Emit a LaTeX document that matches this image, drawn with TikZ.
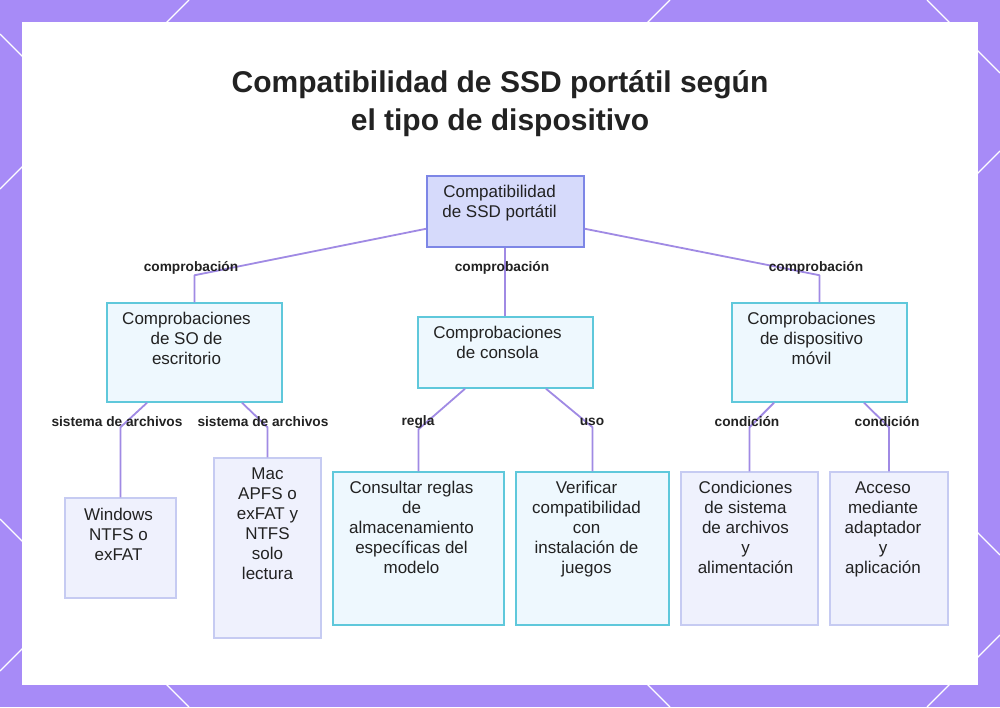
\documentclass[tikz,border=0pt]{standalone}
\usepackage{fontspec}
\setmainfont{Liberation Sans}
\usetikzlibrary{calc}
\definecolor{bgpurple}{HTML}{A78BF7}
\definecolor{edgecol}{HTML}{A08AE4}
\definecolor{rootfill}{HTML}{D6DAFB}
\definecolor{rootdraw}{HTML}{7D86E6}
\definecolor{cyanfill}{HTML}{EEF8FE}
\definecolor{cyandraw}{HTML}{5FC8DB}
\definecolor{lavfill}{HTML}{EFF1FD}
\definecolor{lavdraw}{HTML}{C6CBF2}
\definecolor{txt}{HTML}{222222}
\begin{document}
\begin{tikzpicture}[x=1pt,y=-1pt,
  boxbase/.style={rectangle, inner sep=0pt, line width=1.5pt},
  rootbox/.style={boxbase, draw=rootdraw, fill=rootfill},
  cyanbox/.style={boxbase, draw=cyandraw, fill=cyanfill},
  lavbox/.style={boxbase, draw=lavdraw, fill=lavfill},
  boxtext/.style={anchor=north, inner sep=0pt, align=center, text=txt, font=\fontsize{17}{20}\selectfont},
  elabel/.style={inner sep=0pt, text=txt, font=\fontsize{13.7}{16}\selectfont\bfseries},
  edge/.style={draw=edgecol, line width=1.8pt, line join=round},
  deco/.style={draw=white, line width=1.3pt}
]
\useasboundingbox (0,0) rectangle (1000,707);
\fill[bgpurple] (0,0) rectangle (1000,707);
% decorative diagonal lines in the border
\draw[deco] (165,24) -- (189,0);
\draw[deco] (0,34) -- (24,58);
\draw[deco] (0,189) -- (24,165);
\draw[deco] (0,519) -- (24,543);
\draw[deco] (0,671) -- (24,647);
\draw[deco] (646,24) -- (670,0);
\draw[deco] (927,0) -- (951,24);
\draw[deco] (976,49) -- (1000,73);
\draw[deco] (976,175) -- (1000,151);
\draw[deco] (976,531) -- (1000,555);
\draw[deco] (976,659) -- (1000,635);
\draw[deco] (165,683) -- (189,707);
\draw[deco] (646,683) -- (670,707);
\draw[deco] (951,683) -- (927,707);
% white panel
\fill[white] (22,22) rectangle (978,685);

% title
\node[inner sep=0pt, align=center, text=txt, font=\fontsize{30}{38}\selectfont\bfseries] (title) at (500,104)
  {Compatibilidad de SSD portátil según\\el tipo de dispositivo};

% boxes
\node[rootbox, minimum width=157pt, minimum height=71pt] (root) at (505.5,211.5) {};
\node[cyanbox, minimum width=175pt, minimum height=99pt] (desk) at (194.5,352.5) {};
\node[cyanbox, minimum width=175pt, minimum height=71pt] (cons) at (505.5,352.5) {};
\node[cyanbox, minimum width=175pt, minimum height=99pt] (mob) at (819.5,352.5) {};
\node[lavbox, minimum width=111pt, minimum height=100pt] (win) at (120.5,548) {};
\node[lavbox, minimum width=107pt, minimum height=180pt] (mac) at (267.5,548) {};
\node[cyanbox, minimum width=171pt, minimum height=153pt] (rules) at (418.5,548.5) {};
\node[cyanbox, minimum width=153pt, minimum height=153pt] (ver) at (592.5,548.5) {};
\node[lavbox, minimum width=137pt, minimum height=153pt] (cond) at (749.5,548.5) {};
\node[lavbox, minimum width=118pt, minimum height=153pt] (acc) at (889,548.5) {};

% box texts
\node[boxtext] (troot) at ($(root.north)+(-6,10)$) {Compatibilidad\\de SSD portátil};
\node[boxtext] (tdesk) at ($(desk.north)+(-8,10)$) {Comprobaciones\\de SO de\\escritorio};
\node[boxtext] (tcons) at ($(cons.north)+(-8,10)$) {Comprobaciones\\de consola};
\node[boxtext] (tmob) at ($(mob.north)+(-8,10)$) {Comprobaciones\\de dispositivo\\móvil};
\node[boxtext] (twin) at ($(win.north)+(-2,11)$) {Windows\\NTFS o\\exFAT};
\node[boxtext] (tmac) at ($(mac.north)+(0,10)$) {Mac\\APFS o\\exFAT y\\NTFS\\solo\\lectura};
\node[boxtext] (trules) at ($(rules.north)+(-7,10)$) {Consultar reglas\\de\\almacenamiento\\específicas del\\modelo};
\node[boxtext] (tver) at ($(ver.north)+(-6,10)$) {Verificar\\compatibilidad\\con\\instalación de\\juegos};
\node[boxtext] (tcond) at ($(cond.north)+(-4,10)$) {Condiciones\\de sistema\\de archivos\\y\\alimentación};
\node[boxtext] (tacc) at ($(acc.north)+(-6,10)$) {Acceso\\mediante\\adaptador\\y\\aplicación};

% connectors
\draw[edge] ($(root.south west)+(0,-19)$) -- ($(desk.north)+(0,-27)$) -- (desk.north);
\draw[edge] ($(root.south)+(-0.5,0)$) -- ($(cons.north)+(-0.5,0)$);
\draw[edge] ($(root.south east)+(0,-19)$) -- ($(mob.north)+(0,-27)$) -- (mob.north);
\draw[edge] ($(desk.south)+(-47.5,0)$) -- ($(win.north)+(0,-70)$) -- (win.north);
\draw[edge] ($(desk.south)+(47.5,0)$) -- ($(mac.north)+(0,-30)$) -- (mac.north);
\draw[edge] ($(cons.south)+(-40.5,0)$) -- ($(rules.north)+(0,-42)$) -- (rules.north);
\draw[edge] ($(cons.south)+(40.5,0)$) -- ($(ver.north)+(0,-44)$) -- (ver.north);
\draw[edge] ($(mob.south)+(-45.5,0)$) -- ($(cond.north)+(0,-44)$) -- (cond.north);
\draw[edge] ($(mob.south)+(44.5,0)$) -- ($(acc.north)+(0,-44)$) -- (acc.north);

% connector labels
\node[elabel] (l1) at (191,268) {comprobación};
\node[elabel] (l2) at (502,268) {comprobación};
\node[elabel] (l3) at (816,268) {comprobación};
\node[elabel] (l4) at (117,422) {sistema de archivos};
\node[elabel] (l5) at (263,422) {sistema de archivos};
\node[elabel] (l6) at (418,422) {regla};
\node[elabel] (l7) at (592,422) {uso};
\node[elabel] (l8) at (747,422) {condición};
\node[elabel] (l9) at (887,422) {condición};
\end{tikzpicture}
\end{document}
